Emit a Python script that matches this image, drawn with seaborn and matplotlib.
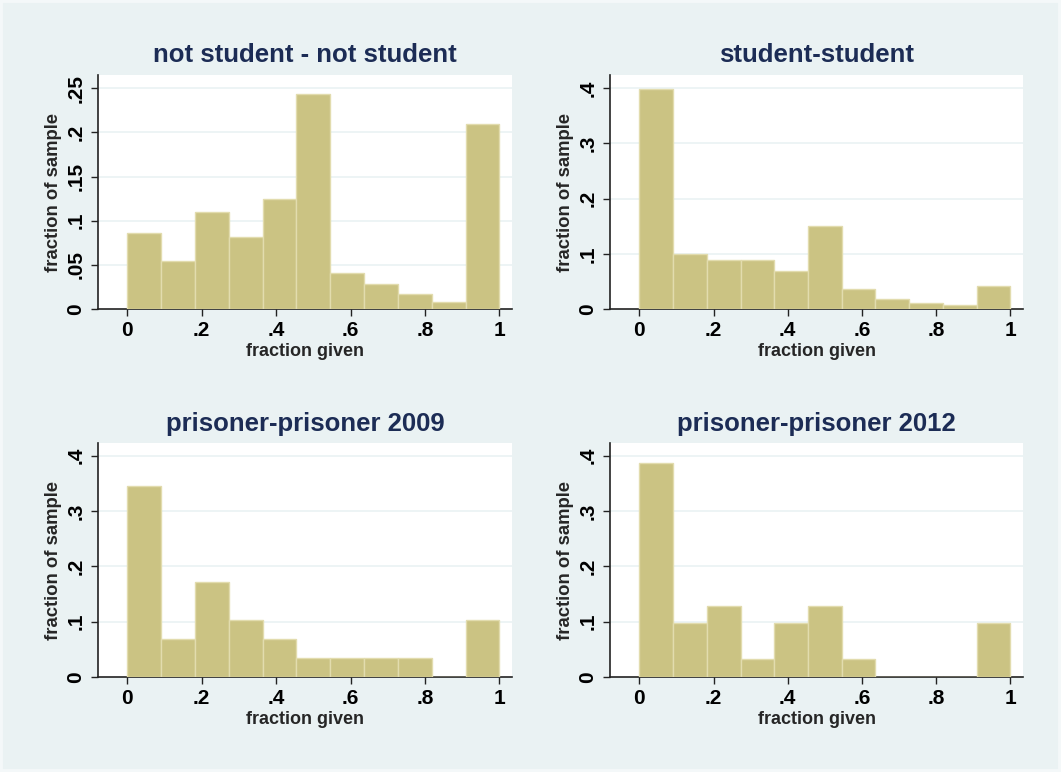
import numpy as np
import pandas as pd
import matplotlib
matplotlib.use("Agg")
import matplotlib.pyplot as plt
import matplotlib.patches as mpatches
import seaborn as sns

# ---- data (bin heights, 11 equal bins on [0, 1]) ----
titles = ["not student - not student", "student-student",
          "prisoner-prisoner 2009", "prisoner-prisoner 2012"]
h_not_student = [0.086, 0.054, 0.110, 0.082, 0.125, 0.243, 0.041, 0.028, 0.017, 0.008, 0.210]
h_student = [0.398, 0.099, 0.089, 0.088, 0.069, 0.151, 0.036, 0.019, 0.011, 0.007, 0.042]
h_prison_2009 = [0.345, 0.069, 0.172, 0.103, 0.069, 0.0345, 0.0345, 0.0345, 0.0345, 0.0, 0.103]
h_prison_2012 = [0.387, 0.097, 0.129, 0.032, 0.097, 0.129, 0.032, 0.0, 0.0, 0.0, 0.097]
series = [h_not_student, h_student, h_prison_2009, h_prison_2012]
yticks_list = [[0, 0.05, 0.10, 0.15, 0.20, 0.25],
               [0, 0.1, 0.2, 0.3, 0.4],
               [0, 0.1, 0.2, 0.3, 0.4],
               [0, 0.1, 0.2, 0.3, 0.4]]
ytick_labels_list = [["0", ".05", ".1", ".15", ".2", ".25"],
                     ["0", ".1", ".2", ".3", ".4"],
                     ["0", ".1", ".2", ".3", ".4"],
                     ["0", ".1", ".2", ".3", ".4"]]
ytop = [0.265, 0.424, 0.423, 0.423]
xticks = [0, 0.2, 0.4, 0.6, 0.8, 1.0]
xtick_labels = ["0", ".2", ".4", ".6", ".8", "1"]
n_bins = 11

sns.set_theme(style="white")
plt.rcParams['font.family'] = ['Liberation Sans', 'DejaVu Sans']

BG = "#EAF2F3"
OUTER = "#F4F8F9"
BAR = "#CBC383"
EDGE = "#E2DCAE"
NAVY = "#1C2C55"

W, H = 1061, 772
fig = plt.figure(figsize=(W / 100, H / 100), dpi=100, facecolor=BG)

boxes = [(98, 75, 512, 309), (610, 75, 1023, 309),
         (98, 443, 512, 677), (610, 443, 1023, 677)]
edges = np.linspace(0, 1, n_bins + 1)
centers = (edges[:-1] + edges[1:]) / 2

for i, (l, t, r, b) in enumerate(boxes):
    ax = fig.add_axes([l / W, 1 - b / H, (r - l) / W, (b - t) / H])
    ax.set_facecolor("white")
    df = pd.DataFrame({"x": centers, "w": series[i]})
    sns.histplot(data=df, x="x", weights="w", bins=n_bins, binrange=(0, 1),
                 ax=ax, color=BAR, edgecolor=EDGE, linewidth=1.0, alpha=1.0,
                 stat="count")
    for p in ax.patches:
        p.set_zorder(3)
    ax.set_xlim(-0.079, 1.034)
    ax.set_ylim(0, ytop[i])
    ax.set_yticks(yticks_list[i])
    ax.set_yticklabels(ytick_labels_list[i], rotation=90, va="center",
                       fontsize=15, fontweight="bold")
    ax.set_xticks(xticks)
    ax.set_xticklabels(xtick_labels, fontsize=15, fontweight="bold")
    for tk in yticks_list[i][1:]:
        ax.axhline(tk, color=BG, lw=1.2, zorder=1)
    ax.tick_params(axis="both", direction="out", length=5, width=1,
                   color="#222222", labelcolor="black", pad=4,
                   bottom=True, left=True)
    for s in ["top", "right"]:
        ax.spines[s].set_visible(False)
    for s in ["left", "bottom"]:
        ax.spines[s].set_color("#222222")
        ax.spines[s].set_linewidth(1.2)
    ax.set_xlabel("fraction given", fontsize=13, fontweight="bold", labelpad=2)
    ax.set_ylabel("fraction of sample", fontsize=13.3, fontweight="bold", labelpad=3)
    ax.set_title(titles[i], fontsize=18.5, fontweight="bold", color=NAVY, pad=9)

# thin lighter outer frame
fig.add_artist(mpatches.Rectangle((0, 0), 1, 1, transform=fig.transFigure,
                                  fill=False, edgecolor=OUTER, linewidth=4.3,
                                  zorder=10))

fig.savefig("out.png", dpi=100, facecolor=BG)
